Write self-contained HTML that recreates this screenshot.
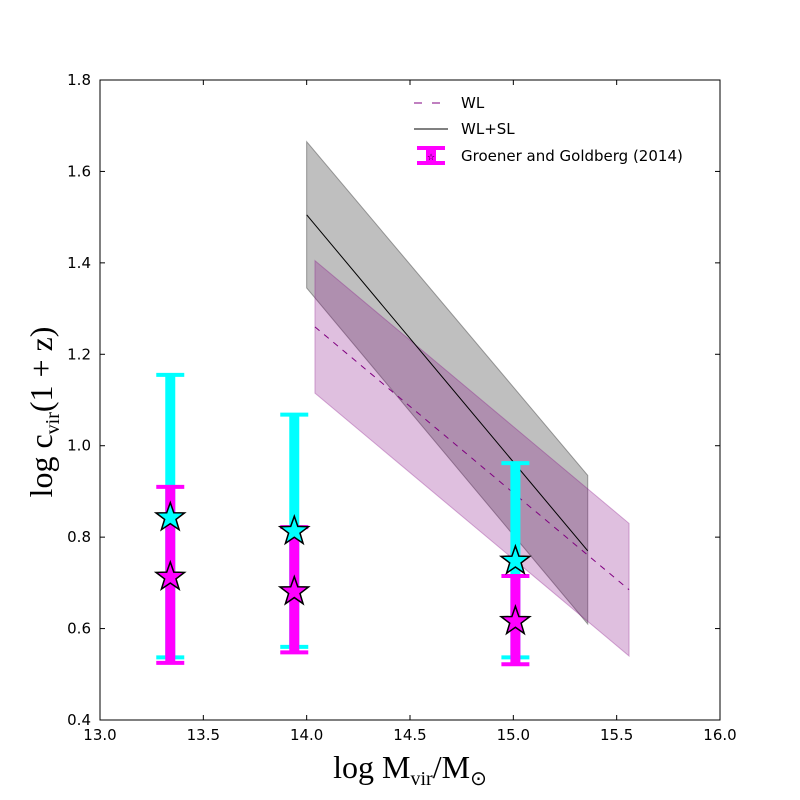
<!DOCTYPE html>
<html><head><meta charset="utf-8"><style>body{margin:0;background:#fff}svg{display:block}</style></head>
<body>
<svg id="chart" width="800" height="800" xmlns="http://www.w3.org/2000/svg">
<rect width="800" height="800" fill="#fff"/>
<g id="plot"></g>
</svg>
<script>
const bandX = [14.0, 15.36];
const wlslLine = [1.505, 0.77];
const wlslUpper = [1.665, 0.935];
const wlslLower = [1.345, 0.61];
const wlX = [14.04, 15.56];
const wlLine = [1.26, 0.685];
const wlUpper = [1.405, 0.83];
const wlLower = [1.115, 0.54];
const ggX = [13.34, 13.94, 15.01];
const cyanVal = [0.845, 0.815, 0.75];
const cyanHi = [1.155, 1.068, 0.962];
const cyanLo = [0.537, 0.56, 0.537];
const magVal = [0.715, 0.683, 0.618];
const magHi = [0.91, 0.822, 0.715];
const magLo = [0.525, 0.548, 0.522];
const xTicks = ["13.0","13.5","14.0","14.5","15.0","15.5","16.0"];
const yTicks = ["0.4","0.6","0.8","1.0","1.2","1.4","1.6","1.8"];

const NS="http://www.w3.org/2000/svg";
const L=100,R=720,T=80,B=720;
const sx=v=>L+(v-13)/3*(R-L);
const sy=v=>B-(v-0.4)/1.4*(B-T);
const g=document.getElementById('plot');
function mk(tag,attrs,parent){const e=document.createElementNS(NS,tag);for(const k in attrs)e.setAttribute(k,attrs[k]);(parent||g).appendChild(e);return e;}

let p=mk('polygon',{points:`${sx(bandX[0])},${sy(wlslUpper[0])} ${sx(bandX[1])},${sy(wlslUpper[1])} ${sx(bandX[1])},${sy(wlslLower[1])} ${sx(bandX[0])},${sy(wlslLower[0])}`,fill:'#808080','fill-opacity':0.5,stroke:'#606060','stroke-opacity':0.6});


p=mk('polygon',{points:`${sx(wlX[0])},${sy(wlUpper[0])} ${sx(wlX[1])},${sy(wlUpper[1])} ${sx(wlX[1])},${sy(wlLower[1])} ${sx(wlX[0])},${sy(wlLower[0])}`,fill:'#800080','fill-opacity':0.25,stroke:'#800080','stroke-opacity':0.3});


p=mk('line',{x1:sx(wlX[0]),y1:sy(wlLine[0]),x2:sx(wlX[1]),y2:sy(wlLine[1]),stroke:'#800080','stroke-width':1,'stroke-dasharray':'6,6'});


p=mk('line',{x1:sx(bandX[0]),y1:sy(wlslLine[0]),x2:sx(bandX[1]),y2:sy(wlslLine[1]),stroke:'#000','stroke-width':1});



function errbar(x,lo,hi,color,name){
  const gg=mk('g',{});
  
  
  mk('line',{x1:sx(x),x2:sx(x),y1:sy(lo),y2:sy(hi),stroke:color,'stroke-width':10},gg);
  mk('line',{x1:sx(x)-14,x2:sx(x)+14,y1:sy(lo),y2:sy(lo),stroke:color,'stroke-width':4},gg);
  mk('line',{x1:sx(x)-14,x2:sx(x)+14,y1:sy(hi),y2:sy(hi),stroke:color,'stroke-width':4},gg);
}
function star(cx,cy,r,color,name){
  let pts=[];for(let i=0;i<10;i++){const a=-Math.PI/2+i*Math.PI/5;const rr=i%2?r*0.4:r;pts.push((cx+rr*Math.cos(a)).toFixed(1)+','+(cy+rr*Math.sin(a)).toFixed(1));}
  const s=mk('polygon',{points:pts.join(' '),fill:color,stroke:'#000','stroke-width':1.5});
  
  
}
ggX.forEach((x,i)=>errbar(x,cyanLo[i],cyanHi[i],'#00ffff','cyan-errorbar-'+i));
ggX.forEach((x,i)=>errbar(x,magLo[i],magHi[i],'#ff00ff','magenta-errorbar-'+i));
ggX.forEach((x,i)=>{star(sx(x),sy(cyanVal[i])+1,15,'#00ffff','cyan-star-'+i);star(sx(x),sy(magVal[i])+1,15,'#ff00ff','magenta-star-'+i);});

p=mk('rect',{x:L,y:T,width:R-L,height:B-T,fill:'none',stroke:'#000','stroke-width':1});


xTicks.forEach((t,i)=>{const x=sx(parseFloat(t));
  mk('line',{x1:x,x2:x,y1:B,y2:B-5,stroke:'#000'});mk('line',{x1:x,x2:x,y1:T,y2:T+5,stroke:'#000'});
  const tx=mk('text',{x:x,y:B+20,'text-anchor':'middle','font-family':'DejaVu Sans, sans-serif','font-size':15});tx.textContent=t;
  
  });
yTicks.forEach((t,i)=>{const y=sy(parseFloat(t));
  mk('line',{x1:L,x2:L+5,y1:y,y2:y,stroke:'#000'});mk('line',{x1:R,x2:R-5,y1:y,y2:y,stroke:'#000'});
  const tx=mk('text',{x:L-9,y:y+5,'text-anchor':'end','font-family':'DejaVu Sans, sans-serif','font-size':15});tx.textContent=t;
  
  });
</script>
<svg style="position:absolute;left:0;top:0" width="800" height="800" xmlns="http://www.w3.org/2000/svg">
<g font-family="DejaVu Sans, sans-serif" font-size="15">
<line x1="414" y1="103" x2="448" y2="103" stroke="#800080" stroke-dasharray="8,10"/>
<text x="461" y="108">WL</text>
<line x1="414" y1="129" x2="448" y2="129" stroke="#000"/>
<text x="461" y="134">WL+SL</text>
<g>
<line x1="431" y1="148" x2="431" y2="163" stroke="#ff00ff" stroke-width="10"/>
<line x1="417" y1="148" x2="445" y2="148" stroke="#ff00ff" stroke-width="4"/>
<line x1="417" y1="163" x2="445" y2="163" stroke="#ff00ff" stroke-width="4"/>
<text x="431" y="160" text-anchor="middle" font-size="9">☆</text></g>
<text x="461" y="161">Groener and Goldberg (2014)</text>
</g>
<text x="410" y="778" text-anchor="middle" font-family="Liberation Serif, serif" font-size="32">log M<tspan font-size="20" dy="7">vir</tspan><tspan dy="-7">/M</tspan><tspan font-size="20" dy="7">⊙</tspan></text>
<text transform="translate(52,412) rotate(-90)" text-anchor="middle" font-family="Liberation Serif, serif" font-size="32">log c<tspan font-size="20" dy="7">vir</tspan><tspan dy="-7">(1 + z)</tspan></text>
</svg>
</body></html>
